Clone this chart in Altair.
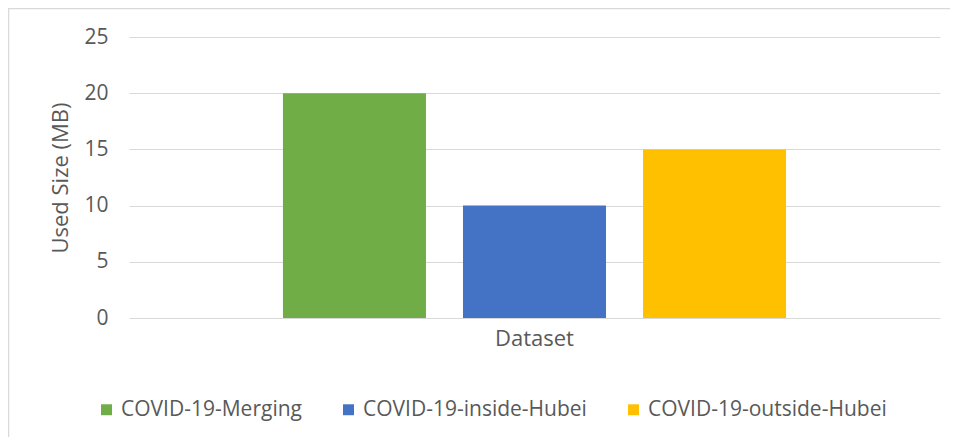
import altair as alt
import pandas as pd

categories = ["Dataset", "Dataset", "Dataset"]
series = ["COVID-19-Merging", "COVID-19-inside-Hubei", "COVID-19-outside-Hubei"]
values = [20, 10, 15]
colors = ["#70ad47", "#4472c4", "#ffc000"]

df = pd.DataFrame({"category": categories, "series": series, "value": values})

FONT = "Open Sans"
TXT = "#595959"

bars = alt.Chart(df).mark_bar().encode(
    x=alt.X("category:N", title=None,
            scale=alt.Scale(paddingInner=0, paddingOuter=0.306),
            axis=alt.Axis(labelAngle=0, domain=False, ticks=False, labelPadding=10,
                          labelFontSize=22, labelColor=TXT, labelFont=FONT, labelLimit=0)),
    xOffset=alt.XOffset("series:N", sort=series,
                        scale=alt.Scale(paddingInner=0.2056, paddingOuter=0)),
    y=alt.Y("value:Q", title="Used Size (MB)",
            scale=alt.Scale(domain=[0, 25]),
            axis=alt.Axis(values=[0, 5, 10, 15, 20, 25], domain=False, ticks=False,
                          labelPadding=21, labelFontSize=21, labelColor=TXT, labelFont=FONT,
                          titleFontSize=22, titleColor=TXT, titleFont=FONT, titleFontWeight="normal",
                          titlePadding=11, gridColor="#d9d9d9", gridWidth=1)),
    color=alt.Color("series:N", sort=series,
                    scale=alt.Scale(domain=series, range=colors),
                    legend=alt.Legend(title=None, orient="none", direction="horizontal",
                                      legendX=-33, legendY=362, symbolType="square",
                                      symbolSize=120, symbolStrokeWidth=0, labelFontSize=21,
                                      labelColor=TXT, labelFont=FONT, columnPadding=36,
                                      labelOffset=4, labelLimit=0)),
)

border = alt.Chart(pd.DataFrame({"b": [0]})).mark_rect(
    fill=None, stroke="#d9d9d9", strokeWidth=1.5
).encode(
    x=alt.value(-120.5), x2=alt.value(860),
    y=alt.value(-28.5), y2=alt.value(460),
)

chart = alt.layer(border, bars).properties(
    width=811, height=281,
    autosize=alt.AutoSizeParams(type="none"),
    padding={"left": 121, "top": 29, "right": 10, "bottom": 119},
).configure_view(stroke=None)

chart.save("out.html", embed_options={"renderer": "svg", "actions": False})
